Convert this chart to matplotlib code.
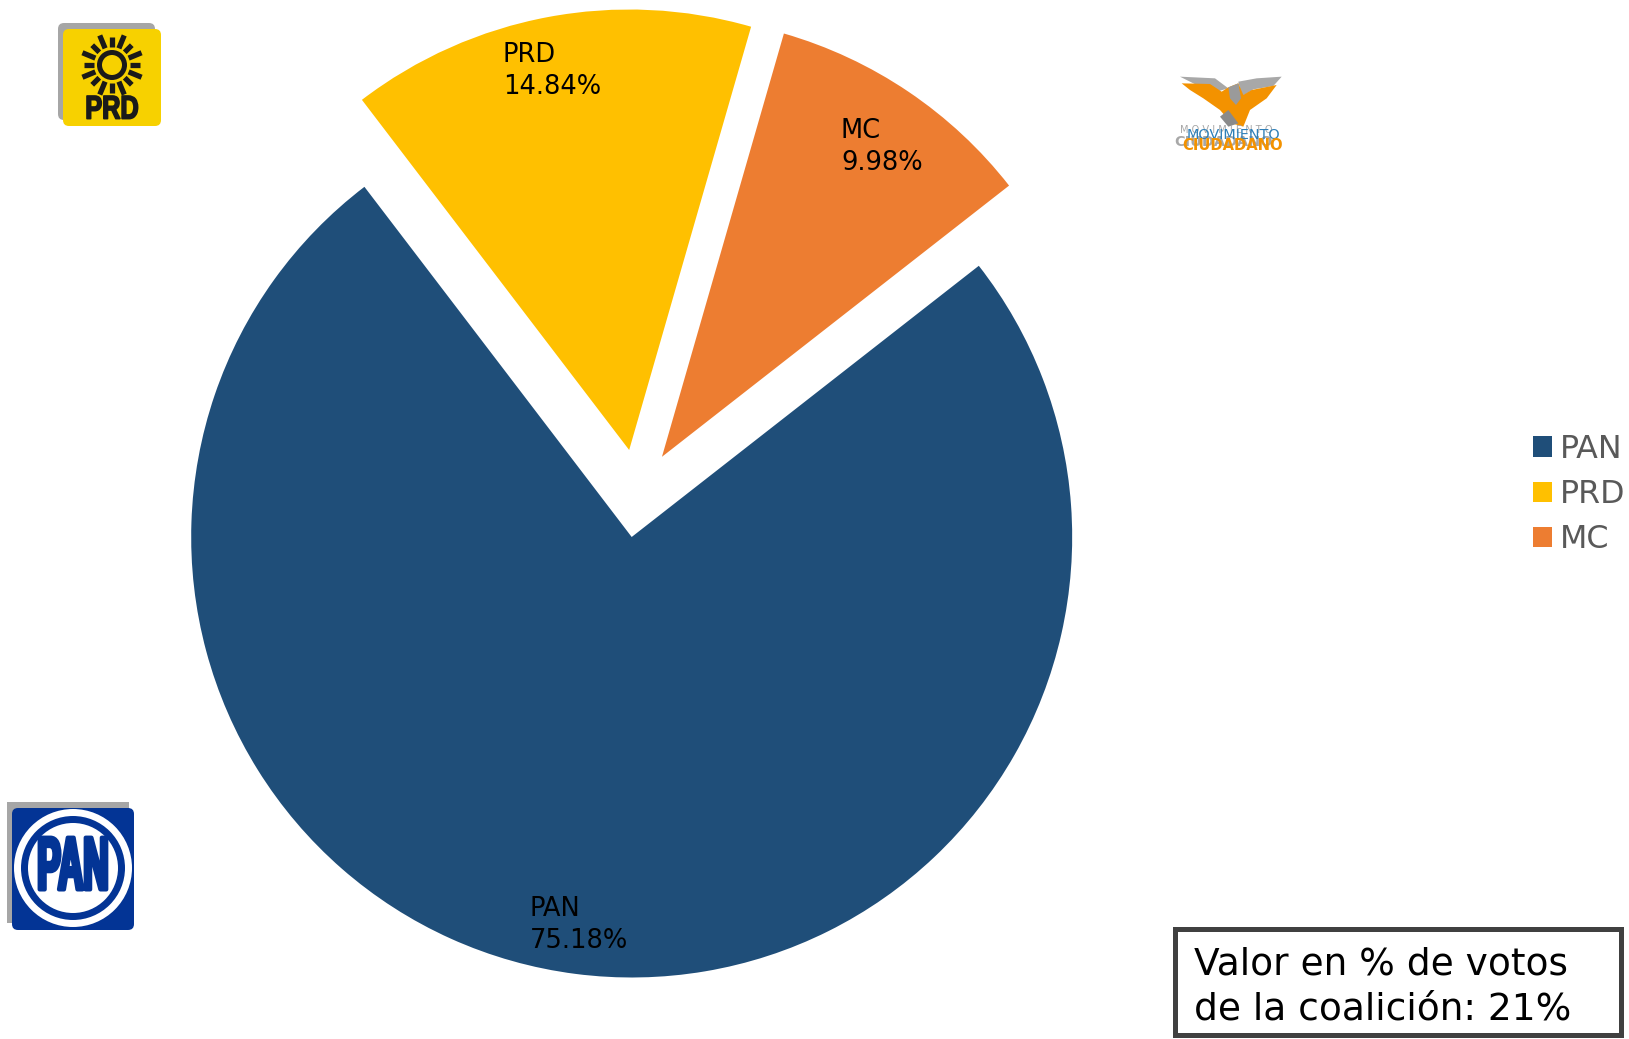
import numpy as np
import matplotlib
matplotlib.use("Agg")
import matplotlib.pyplot as plt
from matplotlib.patches import FancyBboxPatch, Circle, Polygon, Rectangle
from matplotlib.patheffects import AbstractPathEffect
from matplotlib.transforms import Affine2D

parties = ["PAN", "PRD", "MC"]
vote_shares = [75.18, 14.84, 9.98]
slice_colors = ["#1F4E79", "#FFC000", "#ED7D31"]
note_text = "Valor en % de votos\nde la coalición: 21%"
label_nudges = [(-4, -6), (-6, 0), (4, -10)]

W, H = 1629, 1039
fig = plt.figure(figsize=(W / 100, H / 100), dpi=100)
ax = fig.add_axes([0, 0, 1, 1])


def Y(y):
    return H - y


class Stretch(AbstractPathEffect):
    """Stretch and thicken a text, for the condensed heavy logo lettering."""

    def __init__(self, sy, cy, stroke):
        super().__init__()
        self.sy, self.cy, self.stroke = sy, cy, stroke

    def draw_path(self, renderer, gc, tpath, affine, rgbFace=None):
        t = affine + Affine2D().translate(0, -self.cy).scale(1, self.sy).translate(0, self.cy)
        gc0 = renderer.new_gc()
        gc0.copy_properties(gc)
        gc0.set_foreground(rgbFace)
        gc0.set_linewidth(self.stroke)
        renderer.draw_path(gc0, tpath, t, rgbFace)
        gc0.restore()


radius = 440.5
wedges, _, autotexts = ax.pie(
    vote_shares, colors=slice_colors, explode=[0.1 * radius] * 3,
    startangle=38, counterclock=False, center=(637.3, Y(493.3)), radius=radius,
    autopct="%.2f", pctdistance=0.875, textprops={"fontsize": 18.5, "color": "black"},
)
for t, name, val, (dx, dy) in zip(autotexts, parties, vote_shares, label_nudges):
    t.set_text(f"{name}\n{val:.2f}%")
    t.set_multialignment("left")
    t.set_linespacing(1.29)
    x0, y0 = t.get_position()
    t.set_position((x0 + dx, y0 + dy))
ax.set_xlim(0, W)
ax.set_ylim(0, H)
ax.set_aspect("equal")
ax.axis("off")

leg = ax.legend(
    wedges, parties, loc="center left", bbox_to_anchor=(1533, Y(494.5)),
    bbox_transform=ax.transData, frameon=False, fontsize=22.9, labelcolor="#595959",
    handlelength=0.6, handleheight=0.6, handletextpad=0.25, labelspacing=0.45,
    borderpad=0, borderaxespad=0,
)

# note box
ax.add_patch(Rectangle((1175.5, Y(1035)), 446, 106, fc="white", ec="#404040", lw=3.6, zorder=3))
ax.text(1194, Y(1020), note_text, fontsize=27, color="black", va="baseline", ha="left",
        linespacing=1.33, zorder=4)


def rbox(x0, y0, x1, y1, color, r=6, z=5):
    ax.add_patch(FancyBboxPatch((x0, Y(y1)), x1 - x0, y1 - y0,
                                boxstyle=f"round,pad=0,rounding_size={r}",
                                fc=color, ec="none", zorder=z))


# PRD logo
rbox(58, 23, 155, 120, "#A6A6A6")
rbox(63, 29, 161, 126, "#F7D100", z=6)
sx, sy = 112, 65
ax.add_patch(Circle((sx, Y(sy)), 12.5, fc="none", ec="#1A1A1A", lw=3.6, zorder=7))
for i, a in enumerate(np.deg2rad(np.arange(0, 360, 22.5))):
    r1 = 32 if i % 2 else 28
    ax.plot([sx + 18 * np.cos(a), sx + r1 * np.cos(a)],
            [Y(sy) + 18 * np.sin(a), Y(sy) + r1 * np.sin(a)],
            color="#1A1A1A", lw=3.8, solid_capstyle="butt", zorder=7)
ax.text(112, Y(109.5), "PRD", fontsize=18.2, fontweight="bold", color="#1A1A1A",
        family="Liberation Sans", ha="center", va="center", zorder=7,
        path_effects=[Stretch(1.3, Y(109.5), 1.2)])

# PAN logo
ax.add_patch(Rectangle((7, Y(923)), 122, 121, fc="#A6A6A6", ec="none", zorder=5))
rbox(12, 808, 134, 930, "#033495", z=6)
ax.add_patch(Circle((73, Y(868)), 59, fc="white", ec="none", zorder=7))
ax.add_patch(Circle((73, Y(868)), 52, fc="#033495", ec="none", zorder=8))
ax.add_patch(Circle((73, Y(868)), 45, fc="white", ec="none", zorder=9))
ax.text(73, Y(869), "PAN", fontsize=25.2, fontweight="bold", color="#033495",
        family="Liberation Sans", ha="center", va="center", zorder=10,
        path_effects=[Stretch(2.15, Y(869), 3.0)])


# MC logo
def zpoly(points, color, z):
    pts = [(1160 + a / 3, Y(60 + b / 3)) for a, b in points]
    ax.add_patch(Polygon(pts, closed=True, fc=color, ec="none", zorder=z))


zpoly([(60, 50), (165, 55), (205, 85), (170, 95), (110, 75)], "#A8A8A8", 5)
zpoly([(235, 65), (290, 55), (365, 50), (340, 78), (280, 88), (245, 110)], "#A8A8A8", 5)
zpoly([(65, 70), (150, 72), (185, 95), (205, 82), (235, 70), (250, 105), (275, 90), (350, 75),
       (320, 115), (270, 150), (250, 200), (215, 190), (180, 150), (130, 115), (90, 90)],
      "#F39200", 6)
zpoly([(205, 82), (235, 70), (243, 115), (228, 135), (210, 115)], "#9A9A9A", 7)
zpoly([(180, 170), (205, 150), (235, 190), (205, 200)], "#8A8A8A", 7)
ax.text(1160 + 199 / 3, Y(60 + 210 / 3), "M O V I M I E N T O", fontsize=7.1, color="#A8A8A8",
        ha="center", va="center", zorder=7)
ax.text(1160 + 192 / 3, Y(60 + 245 / 3), "CIUDADANO", fontsize=10.4, fontweight="bold", color="#A8A8A8",
        ha="center", va="center", zorder=7)
ax.text(1160 + 220 / 3, Y(60 + 224 / 3), "MOVIMIENTO", fontsize=10.4, color="#2E7FB8",
        ha="center", va="center", zorder=8)
ax.text(1160 + 217 / 3, Y(60 + 255 / 3), "CIUDADANO", fontsize=10.6, color="#F39200", fontweight="bold",
        ha="center", va="center", zorder=8)

fig.savefig("out.png", dpi=100, facecolor="white")
